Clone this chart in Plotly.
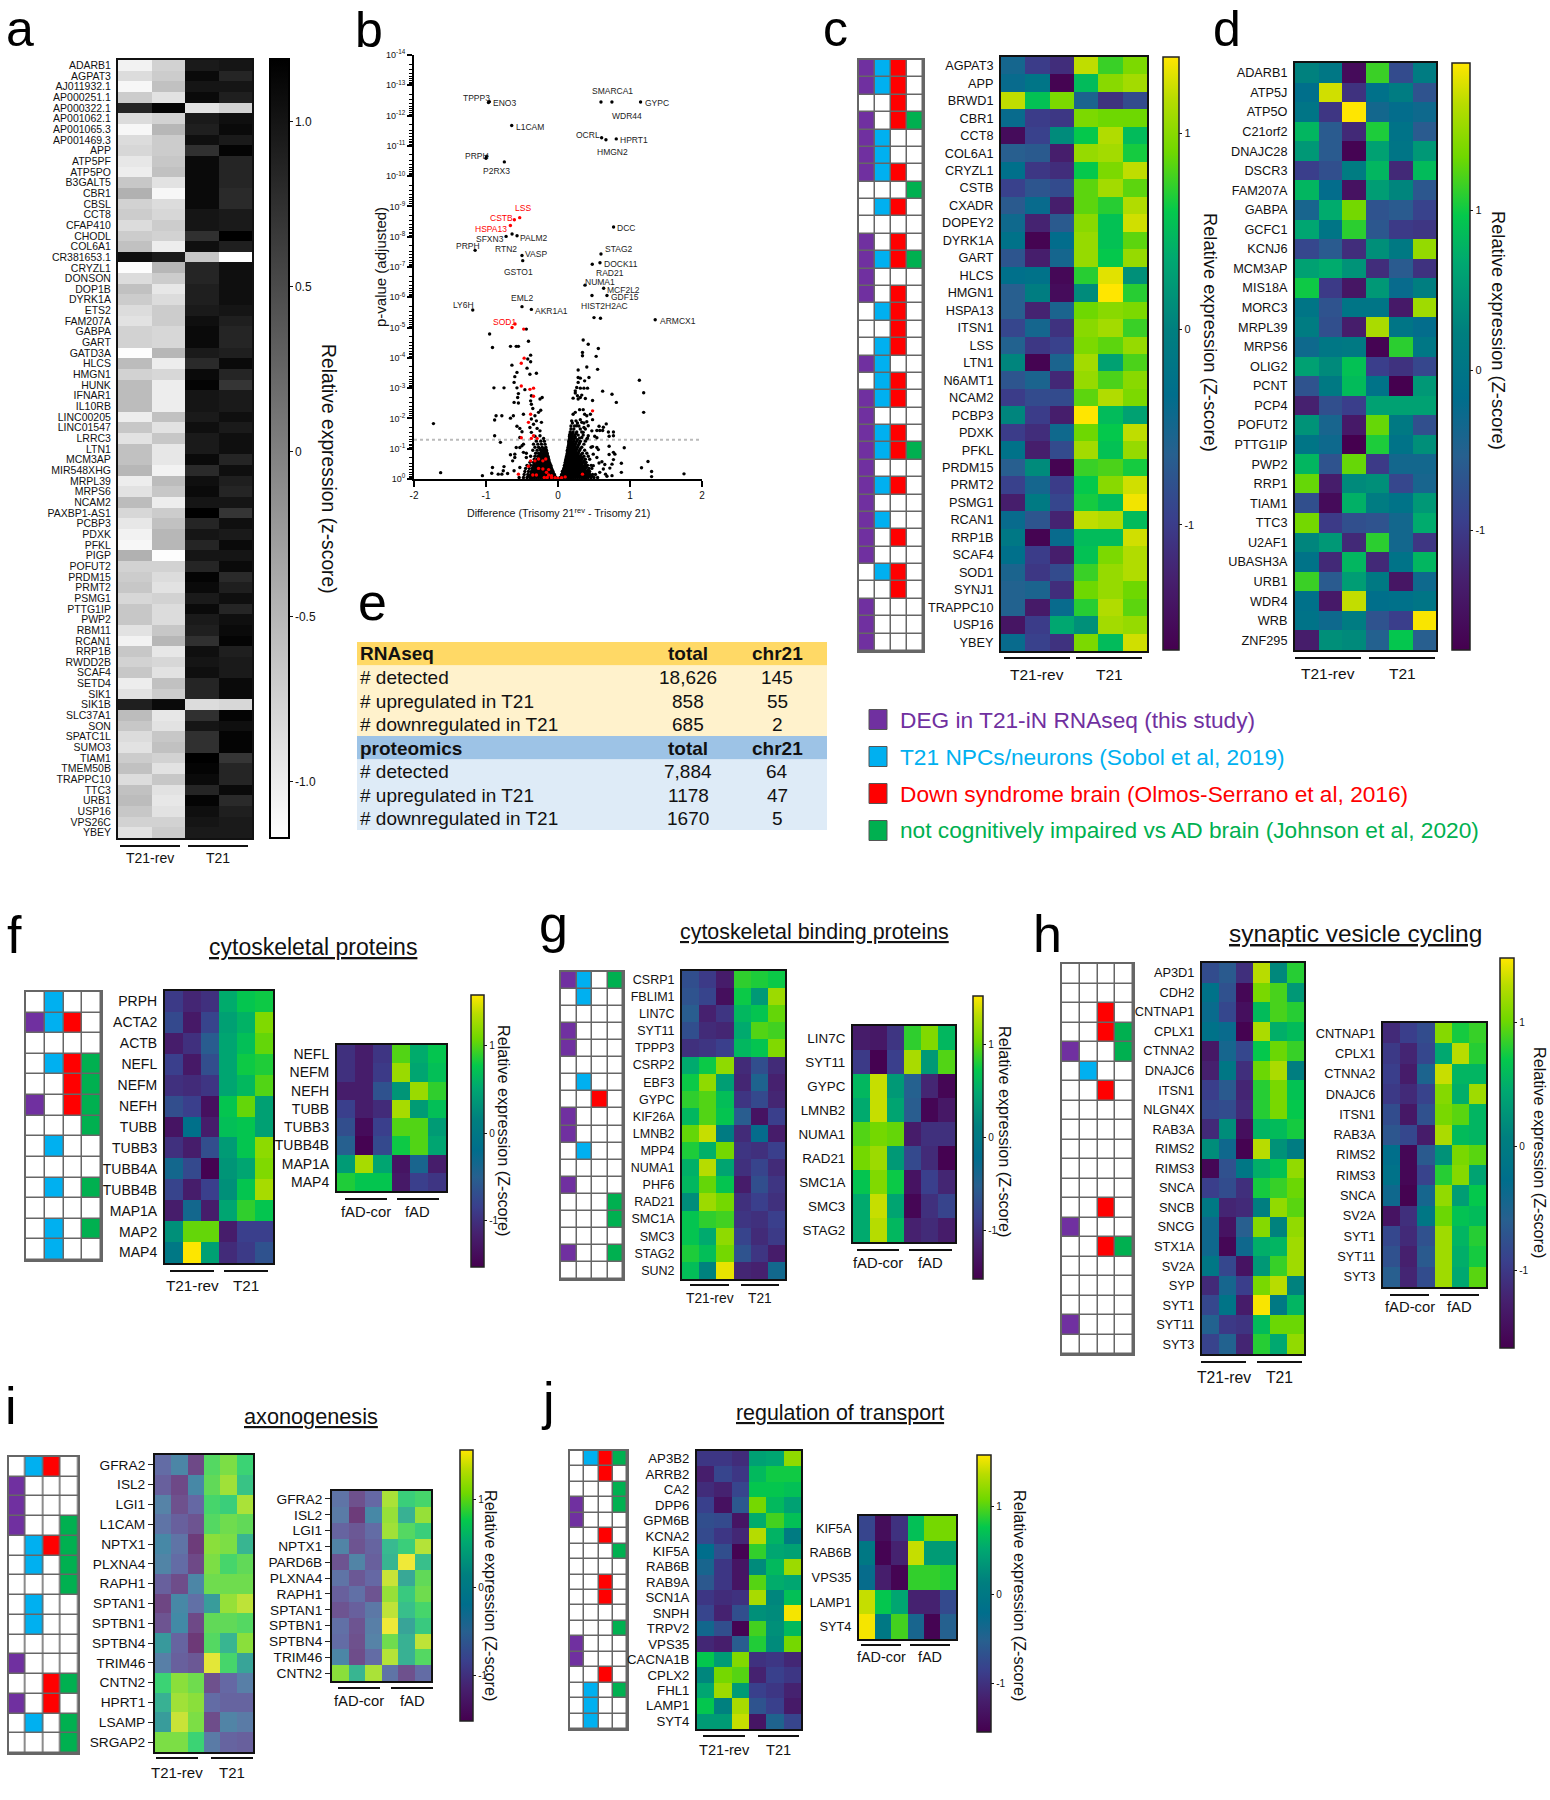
import plotly.graph_objects as go

W, H = 1550, 1800
FONT = "Liberation Sans"

# ---------- panel a ----------
a_genes = ["ADARB1","AGPAT3","AJ011932.1","AP000251.1","AP000322.1","AP001062.1","AP001065.3","AP001469.3","APP","ATP5PF","ATP5PO","B3GALT5","CBR1","CBSL","CCT8","CFAP410","CHODL","COL6A1","CR381653.1","CRYZL1","DONSON","DOP1B","DYRK1A","ETS2","FAM207A","GABPA","GART","GATD3A","HLCS","HMGN1","HUNK","IFNAR1","IL10RB","LINC00205","LINC01547","LRRC3","LTN1","MCM3AP","MIR548XHG","MRPL39","MRPS6","NCAM2","PAXBP1-AS1","PCBP3","PDXK","PFKL","PIGP","POFUT2","PRDM15","PRMT2","PSMG1","PTTG1IP","PWP2","RBM11","RCAN1","RRP1B","RWDD2B","SCAF4","SETD4","SIK1","SIK1B","SLC37A1","SON","SPATC1L","SUMO3","TIAM1","TMEM50B","TRAPPC10","TTC3","URB1","USP16","VPS26C","YBEY"]
a_values = [[-1.05,-.75,.95,1.0],[-.85,-.7,1.1,.85],[-1.1,-.6,1.0,1.0],[-.7,-.9,1.1,.9],[.85,1.15,-.9,-.75],[-.85,-.75,.95,1.05],[-1.1,-.5,.9,1.1],[-.85,-.7,1.05,.95],[-.8,-.7,.75,1.15],[-.95,-.65,1.1,.85],[-1.0,-.6,1.1,.85],[-.65,-.9,1.1,.85],[-.45,-1.1,1.1,.8],[-.75,-.85,1.1,.8],[-.7,-.8,1.0,.95],[-.85,-.7,1.0,.95],[-.7,-.75,.75,1.2],[-.6,-1.0,1.05,.9],[1.05,.95,-.65,-1.15],[-1.15,-.5,.85,1.05],[-.85,-.7,.85,1.05],[-.6,-.95,.9,1.05],[-.7,-.85,.9,1.05],[-.85,-.7,.95,1.0],[-.9,-.7,1.05,.9],[-.75,-.8,1.1,.85],[-.75,-.8,1.1,.85],[-1.15,-.5,.95,.9],[-.55,-1.0,.8,1.1],[-.75,-.8,1.1,.85],[-.55,-1.0,1.15,.7],[-.55,-1.0,1.0,.95],[-.55,-1.0,1.0,.95],[-1.0,-.6,.95,1.05],[-.65,-.9,1.05,.95],[-.9,-.65,.95,1.05],[-.6,-.95,.95,1.05],[-.6,-.95,1.1,.85],[-.5,-1.05,.8,1.05],[-1.0,-.55,1.05,.9],[-.9,-.65,1.1,.85],[-.55,-1.0,1.0,1.0],[-.8,-.7,1.2,.7],[-.95,-.6,.85,1.05],[-1.05,-.5,1.0,.95],[-1.1,-.5,.85,1.1],[-.45,-1.15,1.0,1.0],[-.75,-.75,.85,1.1],[-.7,-.85,1.15,.8],[-.65,-.9,1.1,.9],[-.8,-.75,.95,1.05],[-.65,-.85,1.1,.85],[-.65,-.85,.95,1.05],[-.9,-.65,.9,1.1],[-1.05,-.5,.75,1.15],[-.65,-.95,1.05,.9],[-.75,-.8,1.0,.95],[-.65,-.9,1.05,.95],[-1.0,-.6,.85,1.1],[-.9,-.7,.85,1.1],[.9,1.1,-.85,-.8],[-.55,-.95,.75,1.15],[-.65,-.9,1.0,1.05],[-.85,-.65,.75,1.15],[-.9,-.6,.75,1.15],[-.7,-.75,1.2,.7],[-.6,-.9,1.15,.85],[-.85,-.65,1.1,.85],[-.6,-.9,.85,1.1],[-.55,-.95,1.15,.8],[-.65,-.9,1.05,.9],[-.75,-.75,1.0,.95],[-.9,-.7,.95,.95]]

# ---------- panel b ----------
b_hit_x = [-.966,-.953,-.643,.597,.749,1.147,.606,.666,.809,-.99,-1.0,-.745,-.721,-.638,-.569,-1.151,-.5,-.49,.772,.597,.583,.476,.375,.634,.68,.472,-.5,-.37,-1.184,1.35]
b_hit_y = [12.43,12.46,11.67,12.45,12.45,12.45,11.27,11.2,11.23,10.66,10.59,10.47,8.01,8.09,8.03,7.55,7.38,7.21,8.32,7.43,7.14,7.09,6.4,6.3,6.06,6.06,5.69,5.6,5.58,5.26]
b_left_x = [-1.73,-.95,-.91,-.66,-.58,-.55,-.41,-.44,-.38,-.42,-.38,-.64,-.43,-.57,-.6,-.39,-.3,-.61,-.89,-.75,-.57,-.46,-.55,-.56,-.61,-.55,-.37,-.38,-.22,-.25,-.37,-.35,-.86,-.78,-.62,-.66,-.88,-.48,-.27,-.24,-.32,-.37,-.3,-.23,-.34,-.57,-.53,-.29,-.39,-.37,-.25,-.5,-.88,-.53,-.32,-.25,-.2,-.8,-.58,-.53,-.5,-.6,-.66,-.6,-.63,-.48,-.44,-.91,-.92,-.75,-.76,-.83,-.78,-.7,-1.05,-1.63,-.61,-.53]
b_left_y = [1.83,4.79,4.34,4.38,4.38,4.38,4.55,4.95,4.09,3.96,3.87,3.76,3.66,3.52,3.38,3.46,3.49,3.19,3.01,3.01,3.01,2.95,2.82,2.69,2.53,2.51,2.75,2.58,2.69,2.64,2.47,2.33,2.09,2.09,2.09,2.01,1.95,2.14,2.2,2.27,2.09,1.98,1.92,1.87,1.81,1.74,1.67,1.67,1.7,1.54,1.59,1.56,1.43,1.37,1.41,1.43,1.34,1.21,1.04,1.04,1.1,.82,.8,.71,.6,.88,.71,.38,.19,.41,.27,.16,.16,.18,.11,.21,.27,.38]
b_right_x = [.35,.42,.56,.34,.34,.53,.4,.55,.28,.43,.28,.31,.28,.37,.26,.31,.36,.41,.24,.24,.27,.33,.21,.28,.31,.38,.48,.62,1.13,1.19,.75,.81,1.19,.24,.21,.3,.35,.37,.4,.45,.19,.25,.31,.33,.4,.26,.36,.42,.48,.67,.57,.63,.58,.62,.54,.7,.77,.71,.77,.47,.51,.54,.42,.35,.4,.33,.92,.71,.77,.71,.79,.77,.75,.65,.61,.54,.48,.56,.49,.54,.57,.49,.63,.72,.88,.88,.66,.58,.75,.68,1.16,1.25,1.3,1.3,1.75,.5,.59]
b_right_y = [4.59,4.45,4.31,4.18,4.07,4.05,3.7,3.62,3.6,3.35,3.35,3.33,3.19,3.24,3.02,3.0,3.0,3.0,2.91,2.84,2.75,2.77,2.67,2.64,2.69,2.66,2.59,2.9,3.26,2.85,2.8,2.53,2.2,2.2,2.14,2.29,2.29,2.14,2.09,2.14,1.92,1.92,1.96,1.87,1.89,1.76,1.7,1.76,1.96,1.82,1.74,1.71,1.6,1.6,1.6,1.55,1.55,1.41,1.43,1.59,1.41,1.36,1.43,1.54,1.32,1.37,1.03,1.08,.88,.81,.82,.64,.49,.48,.57,1.04,1.07,.97,.82,.71,.53,.44,.33,.36,.52,.22,.16,.22,.11,.09,.37,.58,.25,.08,.17,5.33,5.31]
b_core_right = [(.05,[.03,.06,.09,.12,.15,.18,.21,.24,.27,.30,.33,.36,.39,.42,.46,.50,.55]),(.1,[.05,.075,.105,.135,.165,.195,.225,.255,.285,.315,.345,.375,.405,.435,.47]),(.15,[.05,.08,.11,.14,.17,.20,.23,.26,.29,.32,.35,.38,.41,.44,.48,.52]),(.2,[.065,.095,.125,.155,.185,.215,.245,.275,.305,.335,.365,.395,.43]),(.25,[.06,.09,.12,.15,.18,.21,.24,.27,.30,.33,.36,.40,.44]),(.3,[.075,.105,.135,.165,.195,.225,.255,.285,.315,.345,.375,.42]),(.35,[.08,.10,.13,.16,.19,.22,.25,.28,.31,.34,.38,.43,.47]),(.4,[.09,.115,.145,.175,.205,.235,.265,.295,.325,.355,.395]),(.45,[.09,.12,.15,.18,.21,.24,.27,.30,.33,.37,.41,.46]),(.5,[.10,.125,.155,.185,.215,.245,.275,.305,.335,.38]),(.55,[.10,.13,.16,.19,.22,.25,.28,.31,.35,.39]),(.6,[.105,.135,.165,.195,.225,.255,.285,.32,.36]),(.65,[.11,.14,.17,.20,.23,.26,.29,.33,.38,.44]),(.7,[.115,.145,.175,.205,.235,.265,.30,.34]),(.75,[.12,.15,.18,.21,.24,.27,.31,.36,.42]),(.8,[.125,.155,.185,.215,.245,.275,.32]),(.85,[.13,.16,.19,.22,.25,.28,.34,.40]),(.9,[.13,.16,.19,.22,.25,.29]),(.95,[.13,.16,.19,.22,.25,.30,.37]),(1.0,[.14,.17,.2,.23,.26,.31]),(1.05,[.14,.17,.20,.23,.27,.33,.46]),(1.1,[.145,.175,.205,.235,.28]),(1.15,[.15,.18,.21,.24,.29,.36]),(1.2,[.15,.18,.21,.25,.3]),(1.25,[.15,.18,.22,.26,.31,.38]),(1.3,[.155,.185,.22,.27]),(1.35,[.16,.20,.24,.30,.41]),(1.4,[.16,.2,.24]),(1.45,[.16,.19,.23,.28,.35]),(1.5,[.17,.2,.25]),(1.55,[.17,.21,.26,.33]),(1.65,[.18,.22,.31,.38]),(1.75,[.18,.23,.29]),(1.85,[.2,.27,.36])]
b_core_left = [(.05,[-.03,-.06,-.09,-.12,-.15,-.18,-.21,-.24,-.27,-.30,-.33,-.36,-.39,-.43,-.48,-.54]),(.1,[-.045,-.075,-.105,-.135,-.165,-.195,-.225,-.255,-.285,-.315,-.345,-.375,-.41]),(.15,[-.05,-.08,-.11,-.14,-.17,-.20,-.23,-.26,-.29,-.32,-.35,-.38,-.42,-.47]),(.2,[-.065,-.095,-.125,-.155,-.185,-.215,-.245,-.275,-.305,-.335,-.37]),(.25,[-.07,-.10,-.13,-.16,-.19,-.22,-.25,-.28,-.31,-.34,-.37,-.41,-.46]),(.3,[-.08,-.11,-.14,-.17,-.2,-.23,-.26,-.29,-.32,-.35]),(.35,[-.09,-.12,-.15,-.18,-.21,-.24,-.27,-.30,-.33,-.36,-.40,-.45]),(.4,[-.095,-.125,-.155,-.185,-.215,-.245,-.275,-.305,-.34]),(.45,[-.10,-.13,-.16,-.19,-.22,-.25,-.28,-.31,-.34,-.38,-.43]),(.5,[-.11,-.14,-.17,-.2,-.23,-.26,-.29,-.33]),(.55,[-.12,-.15,-.18,-.21,-.24,-.27,-.30,-.34,-.39]),(.6,[-.125,-.155,-.185,-.215,-.245,-.275,-.31]),(.65,[-.13,-.16,-.19,-.22,-.25,-.29,-.33]),(.7,[-.135,-.165,-.195,-.23,-.27]),(.75,[-.14,-.17,-.20,-.24,-.28,-.32,-.38]),(.8,[-.15,-.18,-.21,-.25]),(.85,[-.15,-.19,-.23,-.27,-.31,-.44]),(.9,[-.16,-.19,-.23]),(.95,[-.16,-.20,-.24,-.29,-.35]),(1.0,[-.17,-.2,-.25]),(1.05,[-.17,-.22,-.27,-.32]),(1.15,[-.18,-.23,-.28,-.34,-.48]),(1.25,[-.19,-.24,-.30])]
b_red_x = [-.532,-.606,-.661,-.597,-.638,-.476,-.47,-.51,-.51,-.39,-.34,-.34,-.38,-.41,-.34,-.37,-.51,-.29,-.38,-.32,-.27,-.21,-.17,-.41,-.27,-.21,-.13,-.55,-.35,-.3,-.16,-.13,-.19,-.09,-.04,0,.05,.1,.34,-.09,-.15,.48]
b_red_y = [8.63,8.56,8.37,5.12,5.0,4.95,3.99,3.82,3.07,2.96,3.0,2.73,2.14,1.87,1.43,1.34,1.36,1.34,.6,.6,.66,.6,.66,.42,.35,.33,.31,.16,.13,.13,.22,.13,.05,.05,.04,.03,.04,.07,.16,.11,.05,2.25]
b_threshold = 1.3
b_label_text = ["TPPP3","ENO3","L1CAM","SMARCA1","GYPC","WDR44","OCRL","HPRT1","HMGN2","PRPH","P2RX3","LSS","CSTB","HSPA13","SFXN3","PALM2","PRPH","RTN2","VASP","GSTO1","DCC","STAG2","DOCK11","RAD21","NUMA1","MCF2L2","GDF15","HIST2H2AC","EML2","AKR1A1","LY6H","SOD1","ARMCX1"]
b_red_labels = ["LSS","CSTB","HSPA13","SOD1"]

# ---------- panel c ----------
c_genes = ["AGPAT3","APP","BRWD1","CBR1","CCT8","COL6A1","CRYZL1","CSTB","CXADR","DOPEY2","DYRK1A","GART","HLCS","HMGN1","HSPA13","ITSN1","LSS","LTN1","N6AMT1","NCAM2","PCBP3","PDXK","PFKL","PRDM15","PRMT2","PSMG1","RCAN1","RRP1B","SCAF4","SOD1","SYNJ1","TRAPPC10","USP16","YBEY"]
c_values = [[-.5,-1.0,-1.15,1.2,.75,.95],[-.4,-.2,-1.6,.5,1.0,1.1],[1.2,.55,.95,-.55,-1.1,-.85],[-.4,-1.0,-1.05,.95,.9,.9],[-1.5,-.95,.1,.6,1.15,.5],[-.65,-.7,-1.3,1.05,1.1,.65],[-.3,-1.05,-1.15,.6,.95,1.2],[-.95,-.75,-.85,.85,1.1,.85],[-.7,-.4,-1.3,.85,.7,1.15],[-.45,-1.25,-.7,1.0,.55,1.25],[-.25,-1.6,-.35,1.05,.55,.85],[-.75,-1.3,-.5,1.05,.6,1.05],[-.3,-.25,-1.55,.7,1.3,.15],[-.65,-.05,-1.5,.1,1.39,.7],[-.65,-1.25,-.55,.9,1.0,.95],[-.9,-.5,-1.1,1.0,1.1,.75],[-.6,-1.05,-.95,.95,.85,1.05],[.05,-1.6,-.55,1.1,.3,.8],[-.75,-.55,-1.2,1.05,.8,1.0],[-1.0,-.85,-.85,.85,1.15,.95],[.05,-1.0,-1.3,1.39,.5,.3],[-1.0,-1.15,-.45,.9,.6,1.2],[-.25,-1.3,-.85,1.1,.55,1.05],[-.65,.1,-1.6,.75,.8,.65],[-.95,-.5,-1.0,.6,1.0,1.25],[-1.3,-.1,-.9,.65,.5,1.35],[-.4,-.75,-1.25,1.2,1.15,.5],[-.15,-1.6,-.4,.5,.5,1.25],[-.3,-1.0,-1.3,.55,.95,1.15],[-.55,-1.05,-.85,.75,1.05,1.15],[-.6,-.55,-1.15,.9,1.05,.9],[-.6,-1.35,-.4,.7,1.15,.85],[-1.4,-1.0,.35,.15,1.1,1.05],[-.4,-.95,-1.1,.95,.5,1.25]]
c_member = ["1110","1110","0010","1011","1100","1100","1110","0001","0110","0000","1010","1111","1000","1010","0110","0010","0110","1100","0110","1110","1000","1110","1111","1000","1110","1000","1100","1010","1000","0110","0010","1000","1000","1000"]

# ---------- panel d ----------
d_genes = ["ADARB1","ATP5J","ATP5O","C21orf2","DNAJC28","DSCR3","FAM207A","GABPA","GCFC1","KCNJ6","MCM3AP","MIS18A","MORC3","MRPL39","MRPS6","OLIG2","PCNT","PCP4","POFUT2","PTTG1IP","PWP2","RRP1","TIAM1","TTC3","U2AF1","UBASH3A","URB1","WDR4","WRB","ZNF295"]
d_values = [[.25,.05,-1.6,1.15,-.8,.15],[-.15,1.75,-1.1,-.1,.15,-.7],[0,-1.05,1.92,-.35,-.2,-.3],[.8,-.6,-1.2,1.05,-.05,-.6],[.5,-.6,-1.7,.6,0,.5],[-.95,-.75,.15,.8,-1.2,.85],[.8,-.2,-1.5,.55,.3,-.65],[-.4,.7,1.35,-.7,-.6,-.9],[.65,0,1.1,-.65,-1.0,-1.05],[-.85,-.6,-1.15,.4,.1,1.5],[.6,.7,.45,-1.15,-.6,-1.1],[1.0,-1.0,-1.45,.5,-.25,.2],[0,-.7,0,0,-1.4,1.55],[.15,-.75,-1.35,1.6,0,-.2],[-.3,.05,.1,-1.7,1.1,.05],[.6,.35,.9,-.95,-1.1,-.85],[-.7,.1,.85,-.05,-1.75,.5],[-1.3,-.75,-.95,.6,.6,.6],[.45,-.4,-1.4,1.3,.1,-.75],[0,-.3,-1.75,1.05,-.05,.4],[.8,-.7,1.3,-1.0,-.35,-.35],[1.3,-1.35,.35,.4,-.85,-.4],[-.75,-1.6,.75,.15,-.05,.5],[1.35,-1.0,-.75,-.7,-.35,.7],[.3,.5,-1.2,1.1,-.35,-1.05],[-.05,-1.2,.8,-1.2,-.05,.8],[1.15,-.6,.55,.1,-1.45,-.3],[-.1,-1.4,1.7,-.15,-.1,0],[-.05,-.3,.15,-.7,-.95,1.9],[-1.35,.4,.35,-.5,.95,-.55]]

# ---------- panel e ----------
e_rna_rows = [("RNAseq","total","chr21"),("# detected","18,626","145"),("# upregulated in T21","858","55"),("# downregulated in T21","685","2")]
e_prot_rows = [("proteomics","total","chr21"),("# detected","7,884","64"),("# upregulated in T21","1178","47"),("# downregulated in T21","1670","5")]
legend_names = ["DEG in T21-iN RNAseq (this study)","T21 NPCs/neurons (Sobol et al, 2019)","Down syndrome brain (Olmos-Serrano et al, 2016)","not cognitively impaired vs AD brain (Johnson et al, 2020)"]
legend_colors = ["#7030A0","#00B0F0","#FF0000","#00B050"]

# ---------- panel f ----------
f_genes = ["PRPH","ACTA2","ACTB","NEFL","NEFM","NEFH","TUBB","TUBB3","TUBB4A","TUBB4B","MAP1A","MAP2","MAP4"]
f_values = [[-.9,-1.1,-1.0,.55,.75,.8],[-.75,-1.25,-.8,.45,.6,1.15],[-1.2,-1.0,-.55,.5,.7,1.05],[-.85,-1.25,-.7,.5,.8,.85],[-1.0,-1.05,-.95,.5,.65,1.0],[-.7,-.85,-1.35,.75,1.05,.45],[-1.3,-.15,-1.2,.7,.75,.45],[-1.0,-1.2,-.7,.4,.75,1.2],[-.35,-.75,-1.5,.35,.5,1.15],[-.8,-1.2,-.85,.3,.75,1.3],[-1.2,-.35,-1.2,.5,.9,.75],[.3,1.05,1.05,-1.2,-.85,-.85],[0,1.58,.45,-1.05,-.9,-.65]]
f_member = ["0100","1110","0000","0111","0011","1011","0001","0100","0000","0101","0000","0101","0100"]
f2_genes = ["NEFL","NEFM","NEFH","TUBB","TUBB3","TUBB4B","MAP1A","MAP4"]
f2_values = [[-1.0,-1.2,-.95,1.0,.55,.75],[-1.0,-1.2,-.9,1.25,.5,.7],[-1.2,-1.2,-.65,.35,1.25,.9],[-.85,-1.2,-1.05,1.3,.4,.7],[-.7,-1.4,-.85,1.0,1.0,.4],[-.5,-1.5,-.75,.8,1.0,.5],[.4,1.3,.5,-1.3,-.4,-1.2],[.85,.75,.75,-1.25,-.85,-.95]]

# ---------- panel g ----------
g_genes = ["CSRP1","FBLIM1","LIN7C","SYT11","TPPP3","CSRP2","EBF3","GYPC","KIF26A","LMNB2","MPP4","NUMA1","PHF6","RAD21","SMC1A","SMC3","STAG2","SUN2"]
g_values = [[-.7,-.9,-1.2,.85,.8,.75],[-.65,-.8,-1.35,.75,.35,1.2],[-.55,-1.15,-.95,.6,.7,1.0],[-.7,-1.05,-1.1,.5,.95,.9],[-1.0,-.95,-.85,.6,.7,1.1],[.5,.75,1.15,-1.05,-.7,-1.05],[.75,1.15,.4,-1.1,-.45,-1.15],[.85,.95,.65,-.95,-.75,-1.1],[.6,.95,.7,-.55,-1.3,-.85],[1.0,1.35,.05,-1.05,-.25,-1.2],[.8,.55,1.05,-.95,-1.0,-.85],[.55,1.3,.45,-1.0,-.8,-1.05],[.6,1.0,.7,-1.2,-.7,-.95],[.25,1.2,1.05,-1.0,-.85,-1.0],[.7,.85,.9,-.95,-1.0,-.85],[.7,.5,1.15,-.8,-1.05,-.9],[.8,.65,1.05,-.65,-.95,-1.2],[.65,.15,1.45,-1.1,-1.15,-.35]]
g_member = ["1101","0100","0000","1000","1000","0000","0100","0010","1000","1000","0100","0000","1000","0001","0001","0000","1001","0000"]
g2_genes = ["LIN7C","SYT11","GYPC","LMNB2","NUMA1","RAD21","SMC1A","SMC3","STAG2"]
g2_values = [[-1.2,-1.25,-.95,.85,1.1,.6],[-.9,-1.5,-.85,1.25,.35,.95],[.6,1.35,.35,-.5,-1.1,-1.45],[.5,1.35,.45,-.55,-1.45,-1.25],[.95,1.05,1.0,-1.2,-1.0,-1.0],[1.05,1.2,.35,-.75,-1.05,-1.5],[.7,1.1,.75,-1.3,-.85,-1.1],[.5,1.35,.45,-1.45,-1.0,-.8],[.5,1.3,.6,-1.15,-1.05,-1.2]]

# ---------- panel h ----------
h_genes = ["AP3D1","CDH2","CNTNAP1","CPLX1","CTNNA2","DNAJC6","ITSN1","NLGN4X","RAB3A","RIMS2","RIMS3","SNCA","SNCB","SNCG","STX1A","SV2A","SYP","SYT1","SYT11","SYT3"]
h_values = [[-.8,-.65,-1.1,1.3,.15,.8],[-.2,-.75,-1.55,1.05,.9,.3],[-.35,-.85,-1.45,.6,.9,.8],[-.2,-.35,-1.6,1.25,.5,.6],[-1.35,-.45,-.85,.7,1.0,.85],[-1.25,-.1,-1.1,1.0,1.25,.05],[-.95,-.65,-1.2,.8,1.05,.65],[-.85,-.8,-1.15,.8,1.05,.7],[-1.15,.2,-1.45,.55,.6,.75],[.2,-.4,-1.6,1.3,.25,0],[-1.55,-.75,-.1,.5,.65,1.15],[-.95,-.8,-1.1,.75,.85,1.0],[-.05,-1.2,-1.15,.05,1.15,.95],[-.4,-1.4,-.6,1.1,.1,1.15],[-.4,-1.55,-.4,.5,.55,1.2],[-.1,-.85,-1.4,.3,.85,1.2],[-1.15,-.45,-.95,1.05,1.3,.1],[-.85,-.15,-1.3,1.5,-.05,.55],[-.55,-1.0,-1.05,.6,1.0,1.0],[-.9,-.55,-1.2,.8,.45,1.15]]
h_member = ["0000","0000","0010","0011","1001","0100","0010","0000","0000","0000","0000","0000","0010","1000","0011","0000","0000","0000","1000","0000"]
h2_genes = ["CNTNAP1","CPLX1","CTNNA2","DNAJC6","ITSN1","RAB3A","RIMS2","RIMS3","SNCA","SV2A","SYT1","SYT11","SYT3"]
h2_values = [[-1.15,-.95,-.8,1.1,.75,.85],[-1.0,-1.2,-.85,.45,1.3,.8],[-.95,-1.3,-.5,1.35,.55,.55],[-1.0,-1.15,-.9,1.1,.5,1.2],[-.8,-1.35,-.75,1.05,.95,.55],[-.7,-.85,-1.3,1.25,.6,.55],[-.25,-1.55,-.65,.25,1.05,.95],[-.2,-1.55,-.9,.8,1.1,.4],[-.4,-1.6,-.45,1.15,.35,.7],[-1.4,-1.1,-.1,1.0,.65,.6],[-.85,-1.15,-.75,1.2,.55,.8],[-.75,-1.25,-.65,1.2,.5,.75],[-.6,-1.2,-.8,1.2,.45,.95]]

# ---------- panel i ----------
i_genes = ["GFRA2","ISL2","LGI1","L1CAM","NPTX1","PLXNA4","RAPH1","SPTAN1","SPTBN1","SPTBN4","TRIM46","CNTN2","HPRT1","LSAMP","SRGAP2"]
i_values = [[-.8,-.4,-1.25,.85,1.0,.75],[-.95,-1.25,-.35,.9,1.15,.6],[-.5,-1.15,-.85,.8,.7,1.2],[-.7,-.95,-1.1,.85,.95,.9],[-.35,-.7,-1.45,1.05,1.0,.45],[-.45,-.8,-1.25,1.0,.8,.9],[-.95,-1.2,-.4,.95,.95,.95],[-1.3,-.35,-.75,.15,1.1,1.3],[-1.1,-.3,-1.25,.9,.9,.85],[.1,-.9,-1.5,.85,.45,1.05],[-.55,-.95,-1.05,1.45,.8,.25],[.75,1.05,.95,-1.15,-.85,-.55],[.4,1.15,1.05,-.8,-.9,-.9],[.15,1.35,1.0,-1.2,-.45,-.6],[1.0,1.0,.75,-.6,-.9,-.95]]
i_member = ["0110","1000","1000","1001","0111","0101","0001","0100","0100","0000","1000","0011","1010","0101","0001"]
i2_genes = ["GFRA2","ISL2","LGI1","NPTX1","PARD6B","PLXNA4","RAPH1","SPTAN1","SPTBN1","SPTBN4","TRIM46","CNTN2"]
i2_values = [[-.7,-1.15,-.85,1.2,.7,.8],[-.6,-1.45,-.35,1.1,.4,1.1],[-.9,-1.05,-.8,1.15,.85,.7],[-.45,-1.1,-.9,.5,.7,1.25],[-1.1,-.45,-.95,.45,1.5,.55],[-.7,-1.05,-.85,1.35,.3,.9],[-.95,-.75,-1.1,1.1,.65,.95],[-1.1,-.95,-.65,1.3,.55,.8],[-.75,-1.1,-.55,1.5,.25,.65],[-.8,-1.15,-.5,.95,.4,1.3],[-.4,-1.2,-.8,1.25,.4,.85],[1.05,.45,1.2,-.7,-1.15,-.8]]

# ---------- panel j ----------
j_genes = ["AP3B2","ARRB2","CA2","DPP6","GPM6B","KCNA2","KIF5A","RAB6B","RAB9A","SCN1A","SNPH","TRPV2","VPS35","CACNA1B","CPLX2","FHL1","LAMP1","SYT4"]
j_values = [[-.95,-.95,-1.05,.45,.5,1.2],[-1.2,-.8,-.95,.65,.8,.8],[-1.05,-1.15,-.8,.75,.75,.7],[-.85,-1.35,-.6,1.1,.65,.45],[-.7,-.75,-1.3,.55,.95,.7],[-.75,-.95,-1.1,1.35,.6,.05],[-.2,-.7,-1.5,.9,.5,.45],[-.4,-.95,-1.3,.25,.65,1.25],[-.6,-.95,-1.3,1.0,.55,.5],[-.95,-1.05,-1.0,1.3,.2,.7],[-.8,-1.15,-.7,.3,.25,1.55],[-.35,-.7,-1.5,.95,.3,.65],[-1.1,-1.2,-.55,.85,.25,1.1],[.75,.4,1.15,-1.0,-.95,-1.1],[.2,1.1,1.0,-1.15,-.85,-.95],[.5,1.25,.4,-.85,-.95,-1.15],[.75,.15,1.3,-.65,-.85,-1.25],[.4,.4,1.4,-1.3,-.45,-.8]]
j_member = ["0111","0010","0001","1001","1000","0010","0001","0000","0010","0010","0000","0001","1000","1000","0010","0101","0100","0100"]
j2_genes = ["KIF5A","RAB6B","VPS35","LAMP1","SYT4"]
j2_values = [[-.8,-1.4,-1.0,.7,1.1,1.1],[0,-1.5,-1.15,1.4,.4,.4],[-.25,-1.2,-1.5,.9,.9,.85],[1.4,.75,.5,-1.15,-1.15,-.75],[1.55,0,.95,-.4,-1.5,-.5]]

# ---------- styling ----------
VIRIDIS = [[0,"#45004F"],[.12,"#46206e"],[.22,"#3a3f8c"],[.33,"#27608f"],[.43,"#006e8c"],[.54,"#007f7f"],[.66,"#00a870"],[.74,"#04c84c"],[.84,"#70d800"],[.93,"#b8dc00"],[1,"#ffe600"]]
GRAYS = [[0,"#ffffff"],[1,"#000000"]]
MEMBER_SCALE = [[0,"#ffffff"],[.125,"#ffffff"],[.125,"#7030A0"],[.375,"#7030A0"],[.375,"#00B0F0"],[.625,"#00B0F0"],[.625,"#FF0000"],[.875,"#FF0000"],[.875,"#00B050"],[1,"#00B050"]]

fig = go.Figure()
layout = dict(width=W, height=H, margin=dict(l=0, r=0, t=0, b=0, autoexpand=False),
              paper_bgcolor="white", plot_bgcolor="white", showlegend=False,
              font=dict(family=FONT, color="#111"))
annotations, shapes = [], []
axis_no = [0]


def px(x): return x / W
def py(y): return 1 - y / H


def txt(x, y, text, size, color="#111", xanchor="center", angle=0):
    annotations.append(dict(x=px(x), y=py(y), xref="paper", yref="paper", text=text, showarrow=False,
                            xanchor=xanchor, yanchor="middle", textangle=angle,
                            font=dict(size=size, color=color, family=FONT), borderpad=0))


def hline(x0, x1, y, width=2, color="#111"):
    shapes.append(dict(type="line", xref="paper", yref="paper", x0=px(x0), x1=px(x1), y0=py(y), y1=py(y),
                       line=dict(color=color, width=width)))


def new_axes(box, linecolor="#111", lw=2, ticks="", labelsize=None, standoff=3):
    axis_no[0] += 1
    n = axis_no[0]
    x0, x1, y0, y1 = box
    s = "" if n == 1 else str(n)
    layout["xaxis" + s] = dict(domain=[px(x0), px(x1)], anchor="y" + s, showticklabels=False, ticks="",
                               showgrid=False, zeroline=False, showline=True, mirror=True,
                               linecolor=linecolor, linewidth=lw, fixedrange=True)
    layout["yaxis" + s] = dict(domain=[py(y1), py(y0)], anchor="x" + s, autorange="reversed", type="category",
                               showgrid=False, zeroline=False, showline=True, mirror=True,
                               linecolor=linecolor, linewidth=lw, ticks=ticks, ticklen=5,
                               tickcolor="#222", showticklabels=labelsize is not None,
                               tickfont=dict(size=labelsize or 10, family=FONT, color="#111"),
                               ticklabelstandoff=(0 if ticks else standoff), tickmode="linear", dtick=1,
                               fixedrange=True)
    return "x" + s, "y" + s


def heat(box, genes, values, zr, scale=VIRIDIS, labelsize=13, opacity=None, cbar=None, ticks="", lw=2):
    xa, ya = new_axes(box, lw=lw, ticks=ticks, labelsize=labelsize)
    tr = go.Heatmap(z=values, y=genes, xaxis=xa, yaxis=ya, zmin=zr[0], zmax=zr[1], colorscale=scale,
                    showscale=cbar is not None, hoverinfo="skip")
    if opacity is not None:
        tr.opacity = opacity
    if cbar is not None:
        tr.colorbar = cbar
    fig.add_trace(tr)


def colorbar(box, tickvals, ticktext, size=11, outline="#222", owidth=1.5):
    x0, x1, y0, y1 = box
    return dict(x=px(x0), xanchor="left", y=py(y0), yanchor="top", thickness=x1 - x0, thicknessmode="pixels",
                len=y1 - y0, lenmode="pixels", tickvals=tickvals, ticktext=ticktext, ticks="outside", ticklen=3,
                tickcolor="#111", tickfont=dict(size=size, family=FONT, color="#111"),
                outlinecolor=outline, outlinewidth=owidth, xpad=0, ypad=0)


def member(box, genes, rows):
    xa, ya = new_axes(box, linecolor="#666", lw=1.5)
    z = [[(j + 1) if ch == "1" else 0 for j, ch in enumerate(r)] for r in rows]
    fig.add_trace(go.Heatmap(z=z, y=genes, xaxis=xa, yaxis=ya, zmin=0, zmax=4, colorscale=MEMBER_SCALE,
                             showscale=False, xgap=1.5, ygap=1.5, hoverinfo="skip"))
    shapes.append(dict(type="rect", xref=xa + " domain", yref=ya + " domain", x0=0, x1=1, y0=0, y1=1,
                       fillcolor="#666", line=dict(width=0), layer="below"))


def groups(b1, b2, y, ylab, names, size):
    hline(b1[0], b1[1], y)
    hline(b2[0], b2[1], y)
    txt((b1[0] + b1[1]) / 2, ylab, names[0], size)
    txt((b2[0] + b2[1]) / 2, ylab, names[1], size)


REV = ("T21-rev", "T21")
FAD = ("fAD-cor", "fAD")
TITLE_UP = "Relative expression (Z-score)"

# panel a
heat((118, 252, 60, 838), a_genes, a_values, (-1.17, 1.19), scale=GRAYS, labelsize=10.5,
     cbar=colorbar((270, 289, 59, 838), [-1, -.5, 0, .5, 1], ["-1.0", "-0.5", "0", "0.5", "1.0"], size=12, outline="#000", owidth=2))
groups((120, 180), (188, 248), 846, 858, REV, 14)
txt(329, 469, "Relative expression (z-score)", 19.3, angle=90)

# panel b
axis_no[0] += 1
bn = str(axis_no[0])
major = list(range(0, 15))
minor = [k + d for k in range(0, 14) for d in (.046, .097, .155, .222, .301, .398, .523, .699)]
layout["xaxis" + bn] = dict(domain=[px(414), px(702)], anchor="y" + bn, range=[-2, 2], tickvals=[-2, -1, 0, 1, 2],
                            ticktext=["-2", "-1", "0", "1", "2"], ticks="outside", ticklen=6, tickwidth=2, tickcolor="#000",
                            showgrid=False, zeroline=False, showline=True, linecolor="#000", linewidth=2,
                            tickfont=dict(size=10, family=FONT), fixedrange=True)
layout["yaxis" + bn] = dict(domain=[py(479), py(55)], anchor="x" + bn, range=[0, 14], tickvals=major,
                            ticktext=["10<sup>%s</sup>" % ("0" if k == 0 else "-%d" % k) for k in major],
                            ticks="outside", ticklen=5, tickwidth=1.5, tickcolor="#000", showgrid=False, zeroline=False,
                            showline=True, linecolor="#000", linewidth=2, tickfont=dict(size=9, family=FONT),
                            minor=dict(tickvals=minor, ticks="outside", ticklen=3, tickcolor="#000", tickwidth=1),
                            fixedrange=True)
core_x = [x for _, xs in b_core_right + b_core_left for x in xs]
core_y = [y for y, xs in b_core_right + b_core_left for _ in xs]
shapes.append(dict(type="line", xref="x" + bn, yref="y" + bn, x0=-2, x1=2, y0=b_threshold, y1=b_threshold,
                   line=dict(color="#bbbbbb", width=2, dash="dot"), layer="below"))
fig.add_trace(go.Scatter(x=b_hit_x + b_left_x + b_right_x + core_x, y=b_hit_y + b_left_y + b_right_y + core_y,
                         xaxis="x" + bn, yaxis="y" + bn, mode="markers", hoverinfo="skip",
                         marker=dict(size=3.4, color="#000", line=dict(width=0))))
fig.add_trace(go.Scatter(x=b_red_x, y=b_red_y, xaxis="x" + bn, yaxis="y" + bn, mode="markers", hoverinfo="skip",
                         marker=dict(size=3.4, color="#ff0000", line=dict(width=0))))
b_label_pos = [(-1.13,12.59),(-.74,12.4),(-.39,11.63),(.76,12.8),(1.37,12.4),(.96,11.99),(.42,11.36),(1.06,11.2),(.76,10.8),(-1.13,10.65),(-.86,10.16),(-.48,8.95),(-.79,8.62),(-.93,8.26),(-.94,7.94),(-.34,7.97),(-1.25,7.7),(-.72,7.58),(-.3,7.44),(-.55,6.85),(.95,8.29),(.85,7.59),(.87,7.11),(.72,6.79),(.59,6.49),(.91,6.25),(.93,6.02),(.64,5.7),(-.5,5.97),(-.09,5.55),(-1.31,5.75),(-.75,5.19),(1.66,5.22)]
for name, (lx, ly) in zip(b_label_text, b_label_pos):
    annotations.append(dict(x=lx, y=ly, xref="x" + bn, yref="y" + bn, text=name, showarrow=False, xanchor="center",
                            yanchor="middle", borderpad=0,
                            font=dict(size=8.5, family=FONT, color="#ff0000" if name in b_red_labels else "#222")))
txt(381, 267, "p-value (adjusted)", 15, angle=-90)
txt(558, 512, "Difference (Trisomy 21<sup>rev</sup> - Trisomy 21)", 10.7)

# panel c
member((859, 923, 60, 651), c_genes, c_member)
heat((1001, 1147, 57, 651), c_genes, c_values, (-1.64, 1.39),
     cbar=colorbar((1163, 1179, 57, 650), [-1, 0, 1], ["-1", "0", "1"]), labelsize=12.7)
groups((1004, 1070), (1076, 1142), 658, 674, REV, 15.5)
txt(1210, 332, TITLE_UP, 18.3, angle=90)

# panel d
heat((1295, 1436, 63, 650), d_genes, d_values, (-1.75, 1.92),
     cbar=colorbar((1452, 1470, 63, 650), [-1, 0, 1], ["-1", "0", "1"]), labelsize=12.7)
groups((1295, 1361), (1369, 1435), 658, 673, REV, 15.5)
txt(1499, 330, TITLE_UP, 18.3, angle=90)

# panel e
e_x0, e_x1, e_col2, e_col3 = 357, 827, 688, 777
e_bands = [(e_rna_rows, 642, "#FFD966", "#FFF2CC"), (e_prot_rows, 736, "#9DC3E6", "#DEEBF7")]
for rows, top, head_col, body_col in e_bands:
    shapes.append(dict(type="rect", xref="paper", yref="paper", x0=px(e_x0), x1=px(e_x1), y0=py(top), y1=py(top + 23.5),
                       fillcolor=head_col, line=dict(width=0), layer="below"))
    shapes.append(dict(type="rect", xref="paper", yref="paper", x0=px(e_x0), x1=px(e_x1), y0=py(top + 23.5), y1=py(top + 94),
                       fillcolor=body_col, line=dict(width=0), layer="below"))
    for r, row in enumerate(rows):
        yy = top + 12 + r * 23.5
        wrap = ("<b>%s</b>" if r == 0 else "%s")
        txt(e_x0 + 2, yy, wrap % row[0], 19, xanchor="left")
        txt(e_col2, yy, wrap % row[1], 19)
        txt(e_col3, yy, wrap % row[2], 19)
for k, (name, col) in enumerate(zip(legend_names, legend_colors)):
    yy = 719.5 + k * 37
    shapes.append(dict(type="rect", xref="paper", yref="paper", x0=px(869), x1=px(887), y0=py(yy + 10), y1=py(yy - 10),
                       fillcolor=col, line=dict(color="#555", width=1)))
    txt(899, yy, name, 22.7, color=col, xanchor="left")

# panel f
member((26, 101, 992, 1260), f_genes, f_member)
heat((165, 273, 991, 1263), f_genes, f_values, (-1.54, 1.586), labelsize=14,
     cbar=colorbar((471, 484, 995, 1267), [-1, 0, 1], ["-1", "0", "1"], size=10))
groups((170, 214), (224, 268), 1271, 1285, REV, 15.3)
heat((337, 446, 1045, 1191), f2_genes, f2_values, (-1.54, 1.586), labelsize=14)
groups((345, 387), (397, 439), 1199, 1212, FAD, 14.8)
txt(504, 1131, TITLE_UP, 16.2, angle=90)
txt(313, 947, "<u>cytoskeletal proteins</u>", 23)

# panel g
member((561, 623, 972, 1279), g_genes, g_member)
heat((682, 785, 971, 1279), g_genes, g_values, (-1.52, 1.52), labelsize=12.5,
     cbar=colorbar((973, 983, 996, 1279), [-1, 0, 1], ["-1", "0", "1"], size=10))
groups((690, 729), (741, 779), 1285, 1298, REV, 13.8)
heat((853, 955, 1026, 1242), g2_genes, g2_values, (-1.52, 1.52), labelsize=13.4)
groups((857, 899), (909, 952), 1250, 1263, FAD, 14.8)
txt(1005, 1131, TITLE_UP, 16.2, angle=90)
txt(815, 932, "<u>cytoskeletal binding proteins</u>", 21.4)

# panel h
member((1062, 1133, 964, 1354), h_genes, h_member)
heat((1202, 1304, 963, 1354), h_genes, h_values, (-1.63, 1.52), labelsize=12.8,
     cbar=colorbar((1500, 1514, 958, 1348), [-1, 0, 1], ["-1", "0", "1"], size=10))
groups((1201, 1246), (1257, 1302), 1362, 1377, REV, 15.7)
heat((1383, 1486, 1023, 1287), h2_genes, h2_values, (-1.63, 1.52), labelsize=12.8)
groups((1390, 1429), (1440, 1479), 1295, 1307, FAD, 14.8)
txt(1540, 1152, TITLE_UP, 16.2, angle=90)
txt(1355, 933, "<u>synaptic vesicle cycling</u>", 24.5)

# panel i
member((8.5, 78, 1457, 1753), i_genes, i_member)
heat((155, 253, 1455, 1752), i_genes, i_values, (-1.52, 1.56), labelsize=13.7, opacity=.78, ticks="outside",
     cbar=colorbar((460, 473, 1450, 1721), [-1, 0, 1], ["-1", "0", "1"], size=10))
groups((156, 198), (211, 253), 1758, 1772, REV, 15)
heat((332, 431, 1491, 1681), i2_genes, i2_values, (-1.52, 1.56), labelsize=13.7, opacity=.78, ticks="outside")
groups((338, 380), (391, 433), 1688, 1701, FAD, 14.8)
txt(491, 1595, TITLE_UP, 16.2, angle=90)
txt(311, 1416, "<u>axonogenesis</u>", 21.7)

# panel j
member((570, 627, 1451, 1729), j_genes, j_member)
heat((697, 801, 1451, 1729), j_genes, j_values, (-1.55, 1.58), labelsize=13.2,
     cbar=colorbar((977, 991, 1455, 1732), [-1, 0, 1], ["-1", "0", "1"], size=10))
groups((703, 745), (758, 799), 1736, 1750, REV, 14.6)
heat((859, 956, 1516, 1639), j2_genes, j2_values, (-1.55, 1.58), labelsize=12.8)
groups((861, 901), (910, 950), 1645, 1657, FAD, 14.4)
txt(1020, 1595, TITLE_UP, 16.2, angle=90)
txt(840, 1413, "<u>regulation of transport</u>", 21.4)

# panel letters
for letter, lx, ly, fs in [("a", 5, 29, 50), ("b", 354, 30, 50), ("c", 822, 29, 50), ("d", 1212, 29, 50), ("e", 357, 602, 52),
                           ("f", 6, 935, 52), ("g", 538, 924, 52), ("h", 1032, 934, 52), ("i", 4, 1406, 52), ("j", 540, 1401, 52)]:
    txt(lx, ly, letter, fs, color="#000", xanchor="left")

layout["annotations"] = annotations
layout["shapes"] = shapes
fig.update_layout(**layout)
fig.write_html("out.html", config=dict(displayModeBar=False),
               post_script="document.body.style.margin='0';document.body.style.overflow='hidden';")
